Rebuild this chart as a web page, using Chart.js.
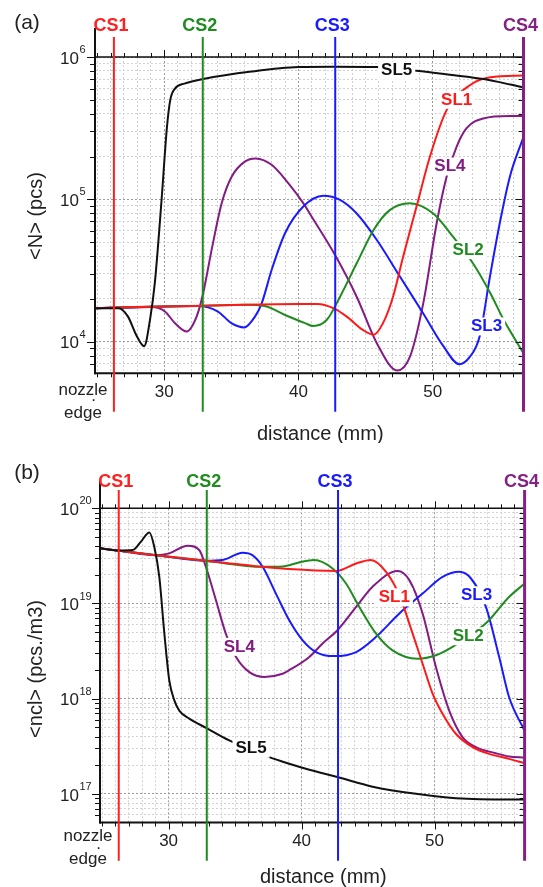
<!DOCTYPE html>
<html>
<head>
<meta charset="utf-8">
<script src="https://cdn.jsdelivr.net/npm/chart.js@4.4.1/dist/chart.umd.min.js"></script>
<style>
  html, body { margin: 0; padding: 0; background: #fff; }
  #wrap { position: relative; width: 543px; height: 887px; }
  canvas { position: absolute; left: 0; }
  #chartA { top: 0; }
  #chartB { top: 443px; }
</style>
</head>
<body>
<div id="wrap">
  <canvas id="chartA" width="543" height="443"></canvas>
  <canvas id="chartB" width="543" height="444"></canvas>
</div>
<script>
// --- axis ranges / ticks ---
const xRange = [24.84, 56.77];
const xTickLabels = [30, 40, 50];
const yRangeA = [6e3, 1e6];
const yDecadesA = [1e4, 1e5, 1e6];
const yExpA = ['4', '5', '6'];
const yRangeB = [5e16, 1e20];
const yDecadesB = [1e17, 1e18, 1e19, 1e20];
const yExpB = ['17', '18', '19', '20'];

// cross sections
const csNames = ['CS1', 'CS2', 'CS3', 'CS4'];
const csX = [26.25, 32.87, 42.74, 56.77];
const csColors = ['#ff2020', '#1f8c1f', '#1a1aff', '#852085'];

// streamlines
const slNames = ['SL5', 'SL1', 'SL2', 'SL3', 'SL4'];
const slColors = { SL1: '#ff1a1a', SL2: '#1f8c1f', SL3: '#1a1aff', SL4: '#841a84', SL5: '#111111' };

// (a) <N> (pcs)
const sl1aX = [24.84, 28, 32, 36, 40, 41.4, 42.6, 43.6, 44.8, 45.6, 46.3, 47.05, 47.8, 48.8, 49.8, 51.05, 52.8, 54.3, 56.77];
const sl1aY = [1.72e4, 1.75e4, 1.78e4, 1.82e4, 1.84e4, 1.84e4, 1.72e4, 1.5e4, 1.21e4, 1.12e4, 1.35e4, 2.07e4, 3.96e4, 8.9e4, 2e5, 4.25e5, 6.36e5, 7.2e5, 7.4e5];
const sl2aX = [24.84, 28, 32, 36, 37.5, 39, 40.5, 41.1, 42.1, 43.1, 44.35, 45.6, 46.8, 48.3, 50.05, 51.3, 53.0, 54.3, 55.3, 56.77];
const sl2aY = [1.72e4, 1.75e4, 1.78e4, 1.82e4, 1.78e4, 1.54e4, 1.35e4, 1.29e4, 1.42e4, 2.07e4, 3.57e4, 6.1e4, 8.4e4, 9.4e4, 7.95e4, 5.8e4, 3.56e4, 2.19e4, 1.42e4, 8.3e3];
const sl3aX = [24.84, 28, 32.5, 34.0, 35.0, 35.96, 36.76, 37.26, 38, 39, 40.36, 41.85, 43.1, 44.34, 45.83, 47.56, 49.3, 50.8, 51.98, 52.78, 53.5, 54.27, 55.0, 55.76, 56.77];
const sl3aY = [1.72e4, 1.75e4, 1.78e4, 1.63e4, 1.35e4, 1.26e4, 1.5e4, 1.86e4, 3.19e4, 5.78e4, 8.9e4, 1.06e5, 9.9e4, 7.95e4, 5.2e4, 2.87e4, 1.58e4, 9.3e3, 6.95e3, 7.85e3, 1.09e4, 2.87e4, 6.8e4, 1.45e5, 2.75e5];
const sl4aX = [24.84, 28, 29.06, 30.05, 30.8, 31.67, 32.41, 32.9, 33.53, 34.28, 35.02, 36.0, 36.81, 38, 39.24, 40.36, 40.86, 42.72, 44.34, 45.83, 47.36, 48.31, 49.3, 50.3, 51.04, 51.79, 52.53, 53.77, 55.76, 56.77];
const sl4aY = [1.72e4, 1.74e4, 1.75e4, 1.63e4, 1.35e4, 1.18e4, 1.5e4, 2.19e4, 4.42e4, 9.4e4, 1.44e5, 1.84e5, 1.94e5, 1.75e5, 1.3e5, 9.4e4, 7.9e4, 4.08e4, 2.07e4, 9.8e3, 6.27e3, 7.85e3, 1.86e4, 6.8e4, 1.44e5, 2.35e5, 3.16e5, 3.7e5, 3.85e5, 3.85e5];
const sl5aX = [24.84, 26.6, 27.3, 27.9, 28.5, 28.95, 29.3, 29.8, 30.2, 30.45, 30.8, 31.5, 32.9, 36.5, 40, 42.6, 45.8, 48.8, 51.3, 53.8, 55.8, 56.77];
const sl5aY = [1.72e4, 1.72e4, 1.5e4, 1.12e4, 9.3e3, 1.45e4, 2.6e4, 9.9e4, 3.2e5, 5e5, 6e5, 6.5e5, 7e5, 7.9e5, 8.5e5, 8.55e5, 8.5e5, 8.0e5, 7.5e5, 7.0e5, 6.4e5, 6.1e5];

// (b) <ncl> (pcs./m3)
const sl1bX = [24.8, 26.3, 29.05, 32.8, 37.07, 39.07, 42.6, 44.1, 45.2, 46.35, 47.35, 48.35, 49.1, 49.85, 50.6, 51.6, 52.86, 54.1, 55.6, 56.77];
const sl1bY = [3.8e19, 3.58e19, 3.22e19, 2.81e19, 2.43e19, 2.3e19, 2.2e19, 2.63e19, 2.86e19, 2.15e19, 1.22e19, 4.83e18, 2.33e18, 1.13e18, 6.95e17, 4.28e17, 3.1e17, 2.63e17, 2.33e17, 2.1e17];
const sl2bX = [24.8, 26.3, 29.05, 32.8, 37.07, 38.57, 39.8, 40.95, 42.33, 43.34, 44.34, 45.6, 46.84, 48.72, 50.1, 51.35, 53.86, 55.6, 56.77];
const sl2bY = [3.8e19, 3.58e19, 3.22e19, 2.81e19, 2.43e19, 2.45e19, 2.7e19, 2.86e19, 2.33e19, 1.62e19, 9.2e18, 4.83e18, 3.22e18, 2.63e18, 2.86e18, 3.5e18, 6.2e18, 1.17e19, 1.62e19];
const sl3bX = [24.8, 26.3, 29.05, 32.8, 34.06, 35.56, 36.3, 37.07, 38.07, 39.07, 40.08, 41.08, 42.46, 44.1, 45.6, 47.35, 49.1, 50.6, 51.86, 52.74, 53.86, 54.86, 55.6, 56.77];
const sl3bY = [3.8e19, 3.58e19, 3.22e19, 2.81e19, 2.86e19, 3.41e19, 3.22e19, 2.43e19, 1.27e19, 6.67e18, 4.1e18, 3.09e18, 2.8e18, 3.09e18, 4.46e18, 7.85e18, 1.27e19, 1.9e19, 2.15e19, 1.83e19, 9.2e18, 2.74e18, 1.04e18, 4.6e17];
const sl4bX = [24.8, 26.3, 29.05, 30.05, 31.43, 32.3, 32.8, 33.56, 34.3, 35.07, 36.07, 37.2, 38.57, 39.07, 40.58, 41.58, 42.7, 44.1, 45.34, 47.22, 48.1, 49.1, 50.1, 51.1, 52.1, 53.1, 54.6, 55.6, 56.77];
const sl4bY = [3.8e19, 3.58e19, 3.22e19, 3.36e19, 4.05e19, 3.65e19, 2.43e19, 1.08e19, 4.83e18, 2.74e18, 1.9e18, 1.69e18, 1.83e18, 1.99e18, 2.74e18, 3.8e18, 5.24e18, 9.2e18, 1.5e19, 2.19e19, 1.76e19, 7.85e18, 2.15e18, 7.5e17, 3.95e17, 3.1e17, 2.67e17, 2.47e17, 2.4e17];
const sl5bX = [24.8, 26.3, 27.3, 27.92, 28.55, 28.92, 29.3, 29.68, 30.05, 30.43, 30.8, 31.56, 32.86, 34.56, 37.57, 39.07, 40.58, 42.7, 45.34, 48.6, 51.6, 55.6, 56.77];
const sl5bY = [3.8e19, 3.6e19, 3.64e19, 4.46e19, 5.58e19, 3.95e19, 1.9e19, 4.83e18, 1.56e18, 9.6e17, 7.5e17, 6.17e17, 4.9e17, 3.64e17, 2.43e17, 2.07e17, 1.79e17, 1.5e17, 1.19e17, 1e17, 9e16, 8.7e16, 8.7e16];

// where the SL names sit (data coords)
const slLabelsA = { SL5: [47.32, 8.0e5], SL1: [51.79, 5.0e5], SL4: [51.29, 1.7e5], SL2: [52.65, 4.4e4], SL3: [54.02, 1.28e4] };
const slLabelsB = { SL4: [35.32, 3.5e18], SL5: [36.2, 2.98e17], SL1: [46.97, 1.16e19], SL3: [53.16, 1.22e19], SL2: [52.53, 4.53e18] };

const FONT = '"Liberation Sans", Arial, sans-serif';

// --- layout per panel (canvas pixels) ---
const layoutA = {
  letter: '(a)', letterY: 23, canvasH: 443, left: 95, right: 523.5, top: 57, bottom: 373.3,
  axisTop: 28, csTop: 37, csBottom: 411.7, csLabelY: 26, tickLabelY: 392, titleY: 434.5,
  yTitle: '<N> (pcs)', yTitleY: 216, nozzleY: [390, 400.5, 413]
};
const layoutB = {
  letter: '(b)', letterY: 30, canvasH: 444, left: 100, right: 524.6, top: 65.3, bottom: 379.5,
  axisTop: 37, csTop: 47, csBottom: 417.7, csLabelY: 38.7, tickLabelY: 398.7, titleY: 434.5,
  yTitle: '<ncl> (pcs./m3)', yTitleY: 226, nozzleY: [393.5, 405, 416]
};

function line(ctx, x1, y1, x2, y2) {
  ctx.beginPath(); ctx.moveTo(x1, y1); ctx.lineTo(x2, y2); ctx.stroke();
}
function text(ctx, s, x, y, font, color, align) {
  ctx.font = font; ctx.fillStyle = color; ctx.textAlign = align || 'center'; ctx.textBaseline = 'middle';
  ctx.fillText(s, x, y);
}
function isDecade(v) {
  const l = Math.log10(v);
  return Math.abs(l - Math.round(l)) < 1e-6;
}
function logGrid(range) {
  const out = [];
  for (let e = Math.floor(Math.log10(range[0])); e <= Math.ceil(Math.log10(range[1])); e++) {
    for (let k = 1; k <= 9; k++) {
      const v = k * Math.pow(10, e);
      if (v > range[0] * 1.0001 && v <= range[1] * 1.0001) out.push(v);
    }
  }
  return out;
}

// --- drawing of frame, ticks, texts, CS lines and labels ---
const decor = {
  id: 'decor',
  afterDatasetsDraw(chart) {
    const L = chart.options.plugins.decor;
    const ctx = chart.ctx;
    const a = chart.chartArea;
    const xs = chart.scales.x, ys = chart.scales.y;
    ctx.save();
    ctx.strokeStyle = '#111';
    ctx.lineCap = 'butt';

    // frame
    ctx.lineWidth = 1.5;
    line(ctx, a.left, a.top, a.right, a.top);
    ctx.lineWidth = 1;
    line(ctx, a.right, a.top, a.right, a.bottom);
    ctx.lineWidth = 2;
    line(ctx, a.left - 1, a.bottom, a.right, a.bottom);
    line(ctx, a.left, L.axisTop, a.left, a.bottom + 1);

    // x tick marks (bottom outside, top outside)
    ctx.lineWidth = 1;
    for (let v = Math.ceil(xRange[0]); v <= xRange[1]; v++) {
      const px = Math.round(xs.getPixelForValue(v)) + 0.5;
      const len = v % 10 === 0 ? 7 : 4;
      line(ctx, px, a.bottom, px, a.bottom + len);
      line(ctx, px, a.top, px, a.top - len);
    }
    // y tick marks (left outside, right inside)
    ys.ticks.forEach(t => {
      const py = Math.round(ys.getPixelForValue(t.value)) + 0.5;
      const len = isDecade(t.value) ? 8 : 5;
      line(ctx, a.left - len, py, a.left, py);
      line(ctx, a.right - len, py, a.right, py);
    });

    // x tick labels
    xTickLabels.forEach(v => text(ctx, String(v), xs.getPixelForValue(v), L.tickLabelY, '17px ' + FONT, '#222'));
    text(ctx, 'nozzle', a.left - 12, L.nozzleY[0], '17px ' + FONT, '#222');
    text(ctx, '.', a.left - 1.5, L.nozzleY[1] - 4, '17px ' + FONT, '#222');
    text(ctx, 'edge', a.left - 12, L.nozzleY[2], '17px ' + FONT, '#222');
    text(ctx, 'distance (mm)', (a.left + a.right) / 2 + 11, L.titleY, '20px ' + FONT, '#222');

    // y tick labels 10^n
    L.decades.forEach((v, i) => {
      const py = ys.getPixelForValue(v);
      text(ctx, '10', 79, py + 2, '17px ' + FONT, '#222', 'right');
      text(ctx, L.exps[i], 79.5, py - 7, '11px ' + FONT, '#222', 'left');
    });

    // y title
    ctx.save();
    ctx.translate(36, L.yTitleY);
    ctx.rotate(-Math.PI / 2);
    text(ctx, L.yTitle, 0, 0, '20px ' + FONT, '#222');
    ctx.restore();

    // panel letter
    text(ctx, L.letter, 27, L.letterY, '21px ' + FONT, '#222');

    // cross section lines
    csX.forEach((v, i) => {
      const px = xs.getPixelForValue(v);
      ctx.strokeStyle = csColors[i];
      ctx.lineWidth = i === 3 ? 3 : 2;
      line(ctx, px, L.csTop, px, L.csBottom);
      text(ctx, csNames[i], px - 3, L.csLabelY, 'bold 18px ' + FONT, csColors[i]);
    });

    // streamline names with white box
    Object.keys(L.slLabels).forEach(name => {
      const p = L.slLabels[name];
      const px = xs.getPixelForValue(p[0]);
      const py = ys.getPixelForValue(p[1]);
      ctx.font = 'bold 17px ' + FONT;
      const w = ctx.measureText(name).width;
      ctx.fillStyle = '#fff';
      ctx.fillRect(px - w / 2 - 3, py - 9, w + 6, 18);
      text(ctx, name, px, py, 'bold 17px ' + FONT, slColors[name]);
    });
    ctx.restore();
  }
};

function makeChart(id, L, series, yRange) {
  const datasets = slNames.map(name => ({
    label: name,
    data: series[name][0].map((x, i) => ({ x: x, y: series[name][1][i] })),
    borderColor: slColors[name],
    borderWidth: 2,
    pointRadius: 0,
    fill: false,
    cubicInterpolationMode: 'monotone'
  }));
  const gridColor = c => (c.tick && isDecade(c.tick.value) ? '#9a9a9a' : '#d2d2d2');
  return new Chart(document.getElementById(id), {
    type: 'line',
    data: { datasets: datasets },
    options: {
      responsive: false,
      devicePixelRatio: 1,
      animation: false,
      layout: { padding: { left: 0, top: L.top, right: 543 - L.right, bottom: 0 } },
      plugins: { legend: { display: false }, tooltip: { enabled: false }, decor: L },
      scales: {
        x: {
          type: 'linear', min: xRange[0], max: xRange[1],
          ticks: { display: false },
          afterBuildTicks: s => { s.ticks = []; for (let v = 25; v <= 56; v++) s.ticks.push({ value: v }); },
          afterFit: s => { s.height = L.canvasH - L.bottom; },
          grid: { color: c => (c.tick && c.tick.value % 10 === 0 ? '#9a9a9a' : '#d2d2d2'), lineWidth: 1, drawTicks: false },
          border: { display: false, dash: [2, 2] }
        },
        y: {
          type: 'logarithmic', min: yRange[0], max: yRange[1],
          ticks: { display: false },
          afterBuildTicks: s => { s.ticks = logGrid(yRange).map(v => ({ value: v })); },
          afterFit: s => { s.width = L.left; },
          grid: { color: gridColor, lineWidth: 1, drawTicks: false },
          border: { display: false, dash: [2, 2] }
        }
      }
    },
    plugins: [decor]
  });
}

layoutA.decades = yDecadesA; layoutA.exps = yExpA; layoutA.slLabels = slLabelsA;
layoutB.decades = yDecadesB; layoutB.exps = yExpB; layoutB.slLabels = slLabelsB;

makeChart('chartA', layoutA, {
  SL1: [sl1aX, sl1aY], SL2: [sl2aX, sl2aY], SL3: [sl3aX, sl3aY], SL4: [sl4aX, sl4aY], SL5: [sl5aX, sl5aY]
}, yRangeA);
makeChart('chartB', layoutB, {
  SL1: [sl1bX, sl1bY], SL2: [sl2bX, sl2bY], SL3: [sl3bX, sl3bY], SL4: [sl4bX, sl4bY], SL5: [sl5bX, sl5bY]
}, yRangeB);
</script>
</body>
</html>
